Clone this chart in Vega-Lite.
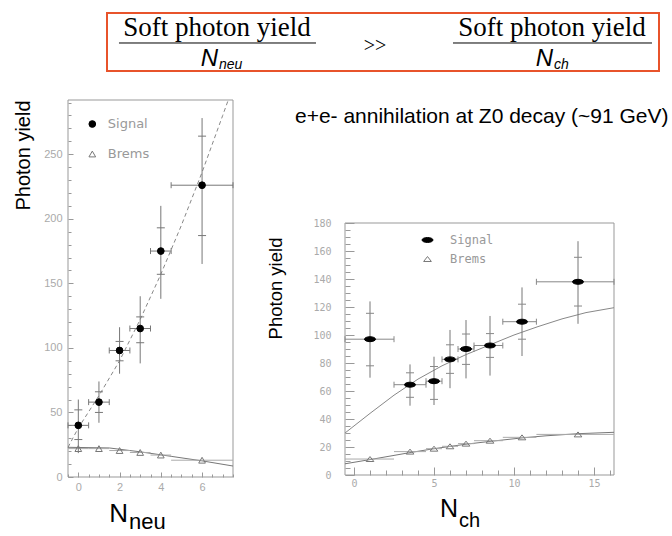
{
  "$schema": "https://vega.github.io/schema/vega-lite/v6.json",
  "width": 672,
  "height": 536,
  "autosize": "none",
  "padding": 0,
  "background": "white",
  "config": {"view": {"stroke": null}, "text": {"font": "Liberation Sans"}},
  "datasets": {
    "leftpts": [
      {"series": "Signal", "n": 0, "y": 40, "lo": 18.5, "hi": 60, "slo": 29, "shi": 52, "xlo": -0.5, "xhi": 0.5},
      {"series": "Signal", "n": 1, "y": 58, "lo": 42, "hi": 74, "slo": 50, "shi": 66, "xlo": 0.5, "xhi": 1.5},
      {"series": "Signal", "n": 2, "y": 98, "lo": 80, "hi": 116, "slo": 90, "shi": 105, "xlo": 1.5, "xhi": 2.5},
      {"series": "Signal", "n": 3, "y": 115, "lo": 88, "hi": 140, "slo": 104, "shi": 124, "xlo": 2.5, "xhi": 3.5},
      {"series": "Signal", "n": 4, "y": 175, "lo": 138, "hi": 210, "slo": 157, "shi": 193, "xlo": 3.5, "xhi": 4.5},
      {"series": "Signal", "n": 6, "y": 226, "lo": 165, "hi": 278, "slo": 187, "shi": 264, "xlo": 4.5, "xhi": 7.5},
      {"series": "Brems", "n": 0, "y": 22, "xlo": -0.5, "xhi": 0.5},
      {"series": "Brems", "n": 1, "y": 22, "xlo": 0.5, "xhi": 1.5},
      {"series": "Brems", "n": 2, "y": 20.5, "xlo": 1.5, "xhi": 2.5},
      {"series": "Brems", "n": 3, "y": 19, "xlo": 2.5, "xhi": 3.5},
      {"series": "Brems", "n": 4, "y": 17, "xlo": 3.5, "xhi": 4.5},
      {"series": "Brems", "n": 6, "y": 13, "xlo": 4.5, "xhi": 7.5}
    ],
    "leftfit": [
      {"series": "Signal", "n": -0.5, "y": 23},
      {"series": "Signal", "n": 0, "y": 38},
      {"series": "Signal", "n": 1, "y": 63},
      {"series": "Signal", "n": 2, "y": 90},
      {"series": "Signal", "n": 3, "y": 122},
      {"series": "Signal", "n": 4, "y": 157},
      {"series": "Signal", "n": 5, "y": 195},
      {"series": "Signal", "n": 6, "y": 236},
      {"series": "Signal", "n": 7, "y": 280},
      {"series": "Signal", "n": 7.27, "y": 292},
      {"series": "Brems", "n": -0.5, "y": 23},
      {"series": "Brems", "n": 1.5, "y": 22.5},
      {"series": "Brems", "n": 3, "y": 19.5},
      {"series": "Brems", "n": 4.5, "y": 16},
      {"series": "Brems", "n": 6, "y": 12.5},
      {"series": "Brems", "n": 7.5, "y": 8.5}
    ],
    "rightpts": [
      {"series": "Signal", "n": 1, "y": 97, "lo": 69.5, "hi": 124, "slo": 78, "shi": 115.5, "xlo": -0.5625, "xhi": 2.5},
      {"series": "Signal", "n": 3.5, "y": 64.5, "lo": 49.5, "hi": 79, "slo": 55.5, "shi": 73, "xlo": 2.5, "xhi": 4.5},
      {"series": "Signal", "n": 5, "y": 67, "lo": 50, "hi": 84.5, "slo": 54, "shi": 77.5, "xlo": 4.5, "xhi": 5.5},
      {"series": "Signal", "n": 6, "y": 82.6, "lo": 62, "hi": 103.6, "slo": 72.6, "shi": 93, "xlo": 5.5, "xhi": 6.5},
      {"series": "Signal", "n": 7, "y": 90, "lo": 69, "hi": 110.7, "slo": 79, "shi": 100.7, "xlo": 6.5, "xhi": 7.5},
      {"series": "Signal", "n": 8.5, "y": 92.5, "lo": 71, "hi": 113.6, "slo": 84, "shi": 101, "xlo": 7.5, "xhi": 9.3},
      {"series": "Signal", "n": 10.5, "y": 109.5, "lo": 85, "hi": 134, "slo": 97, "shi": 122, "xlo": 9.3, "xhi": 11.4},
      {"series": "Signal", "n": 14, "y": 138, "lo": 108, "hi": 167, "slo": 120.7, "shi": 155.5, "xlo": 11.4, "xhi": 16.25},
      {"series": "Brems", "n": 1, "y": 11.4, "xlo": -0.5625, "xhi": 2.5},
      {"series": "Brems", "n": 3.5, "y": 16.7, "xlo": 2.5, "xhi": 4.5},
      {"series": "Brems", "n": 5, "y": 18.8, "xlo": 4.5, "xhi": 5.5},
      {"series": "Brems", "n": 6, "y": 20.5, "xlo": 5.5, "xhi": 6.5},
      {"series": "Brems", "n": 7, "y": 22.4, "xlo": 6.5, "xhi": 7.5},
      {"series": "Brems", "n": 8.5, "y": 24.5, "xlo": 7.5, "xhi": 9.3},
      {"series": "Brems", "n": 10.5, "y": 26.9, "xlo": 9.3, "xhi": 11.4},
      {"series": "Brems", "n": 14, "y": 29, "xlo": 11.4, "xhi": 16.25}
    ],
    "rightfit": [
      {"series": "Signal", "n": -0.5625, "y": 30},
      {"series": "Signal", "n": 1, "y": 44},
      {"series": "Signal", "n": 2.5, "y": 57},
      {"series": "Signal", "n": 4, "y": 68.5},
      {"series": "Signal", "n": 5.5, "y": 78},
      {"series": "Signal", "n": 7, "y": 86},
      {"series": "Signal", "n": 8.5, "y": 93},
      {"series": "Signal", "n": 10, "y": 100},
      {"series": "Signal", "n": 11.5, "y": 106},
      {"series": "Signal", "n": 13, "y": 111.5},
      {"series": "Signal", "n": 14.5, "y": 116},
      {"series": "Signal", "n": 16.25, "y": 119.5},
      {"series": "Brems", "n": -0.5625, "y": 8},
      {"series": "Brems", "n": 1, "y": 11},
      {"series": "Brems", "n": 3.5, "y": 16},
      {"series": "Brems", "n": 5, "y": 18.8},
      {"series": "Brems", "n": 7, "y": 22},
      {"series": "Brems", "n": 8.5, "y": 24},
      {"series": "Brems", "n": 10.5, "y": 26.5},
      {"series": "Brems", "n": 12, "y": 28},
      {"series": "Brems", "n": 14, "y": 29.5},
      {"series": "Brems", "n": 16.25, "y": 30.5}
    ]
  },
  "layer": [
    {
      "data": {"values": [{}]},
      "layer": [
        {
          "mark": {"type": "rect", "fillOpacity": 0, "stroke": "#e8532b", "strokeWidth": 2},
          "encoding": {
            "x": {"datum": 0, "type": "quantitative", "scale": {"domain": [0, 1], "range": [107, 659], "nice": false, "zero": false}, "axis": null},
            "x2": {"datum": 1},
            "y": {"datum": 0, "type": "quantitative", "scale": {"domain": [0, 1], "range": [71, 13], "nice": false, "zero": false}, "axis": null},
            "y2": {"datum": 1}
          }
        },
        {
          "mark": {"type": "text", "text": "Soft photon yield", "font": "Liberation Serif", "fontSize": 27, "align": "center", "baseline": "alphabetic", "color": "black"},
          "encoding": {"x": {"datum": 0.1993, "type": "quantitative"}, "y": {"datum": 0.6034, "type": "quantitative"}}
        },
        {
          "mark": {"type": "text", "text": "Soft photon yield", "font": "Liberation Serif", "fontSize": 27, "align": "center", "baseline": "alphabetic", "color": "black"},
          "encoding": {"x": {"datum": 0.8062, "type": "quantitative"}, "y": {"datum": 0.6034, "type": "quantitative"}}
        },
        {
          "mark": {"type": "rule", "color": "black", "strokeWidth": 1},
          "encoding": {"x": {"datum": 0.0217, "type": "quantitative"}, "x2": {"datum": 0.3786}, "y": {"datum": 0.4828, "type": "quantitative"}}
        },
        {
          "mark": {"type": "rule", "color": "black", "strokeWidth": 1},
          "encoding": {"x": {"datum": 0.6268, "type": "quantitative"}, "x2": {"datum": 0.9873}, "y": {"datum": 0.4828, "type": "quantitative"}}
        },
        {
          "mark": {"type": "text", "text": ">>", "font": "Liberation Serif", "fontSize": 20, "align": "center", "baseline": "alphabetic", "color": "black"},
          "encoding": {"x": {"datum": 0.4855, "type": "quantitative"}, "y": {"datum": 0.3276, "type": "quantitative"}}
        },
        {
          "mark": {"type": "text", "text": "N", "font": "Liberation Sans", "fontStyle": "italic", "fontSize": 24, "align": "right", "baseline": "alphabetic", "color": "black"},
          "encoding": {"x": {"datum": 0.2011, "type": "quantitative"}, "y": {"datum": 0.0862, "type": "quantitative"}}
        },
        {
          "mark": {"type": "text", "text": "neu", "font": "Liberation Sans", "fontStyle": "italic", "fontSize": 14, "align": "left", "baseline": "alphabetic", "color": "black"},
          "encoding": {"x": {"datum": 0.2029, "type": "quantitative"}, "y": {"datum": 0.0345, "type": "quantitative"}}
        },
        {
          "mark": {"type": "text", "text": "N", "font": "Liberation Sans", "fontStyle": "italic", "fontSize": 24, "align": "right", "baseline": "alphabetic", "color": "black"},
          "encoding": {"x": {"datum": 0.808, "type": "quantitative"}, "y": {"datum": 0.0862, "type": "quantitative"}}
        },
        {
          "mark": {"type": "text", "text": "ch", "font": "Liberation Sans", "fontStyle": "italic", "fontSize": 14, "align": "left", "baseline": "alphabetic", "color": "black"},
          "encoding": {"x": {"datum": 0.8098, "type": "quantitative"}, "y": {"datum": 0.0345, "type": "quantitative"}}
        }
      ]
    },
    {
      "data": {"values": [{}]},
      "mark": {"type": "rect", "fillOpacity": 0, "strokeOpacity": 0},
      "encoding": {
        "x": {"datum": -0.5, "type": "quantitative",
          "scale": {"domain": [-0.5, 7.5], "range": [68, 233], "nice": false, "zero": false},
          "axis": {"orient": "bottom", "offset": -59, "values": [-0.5, 0.5, 1, 1.5, 2.5, 3, 3.5, 4.5, 5, 5.5, 6.5, 7, 7.5],
            "labels": false, "domain": false, "grid": false, "tickSize": -3, "tickColor": "#999", "title": null}},
        "x2": {"datum": 7.5},
        "y": {"datum": 0, "type": "quantitative",
          "scale": {"domain": [0, 292], "range": [477, 100], "nice": false, "zero": false},
          "axis": {"orient": "left", "offset": -68, "values": [10, 20, 30, 40, 60, 70, 80, 90, 110, 120, 130, 140, 160, 170, 180, 190, 210, 220, 230, 240, 260, 270, 280, 290],
            "labels": false, "domain": false, "grid": false, "tickSize": -3, "tickColor": "#999", "title": null}},
        "y2": {"datum": 292}
      }
    },
    {
      "layer": [
        {
          "data": {"values": [{}]},
          "mark": {"type": "rect", "fillOpacity": 0, "stroke": "#999", "strokeWidth": 1},
          "encoding": {
            "x": {"datum": -0.5, "type": "quantitative",
              "scale": {"domain": [-0.5, 7.5], "range": [68, 233], "nice": false, "zero": false},
              "axis": {"orient": "bottom", "offset": -59, "values": [0, 2, 4, 6], "format": "d",
                "domain": false, "grid": false, "tickSize": -5, "tickColor": "#999",
                "labelPadding": 9, "labelColor": "#aaa", "labelFontSize": 11, "labelFont": "Liberation Sans", "labelOverlap": false, "labelFlush": false, "title": null}},
            "x2": {"datum": 7.5},
            "y": {"datum": 0, "type": "quantitative",
              "scale": {"domain": [0, 292], "range": [477, 100], "nice": false, "zero": false},
              "axis": {"orient": "left", "offset": -68, "values": [0, 50, 100, 150, 200, 250], "format": "d",
                "domain": false, "grid": false, "tickSize": -5, "tickColor": "#999",
                "labelPadding": 11, "labelColor": "#aaa", "labelFontSize": 11, "labelFont": "Liberation Sans", "labelOverlap": false, "labelFlush": false,
                "title": "Photon yield", "titleFont": "Liberation Sans", "titleFontSize": 20, "titleFontWeight": "normal", "titleColor": "black",
                "titleX": -39, "titleY": 155, "titleAngle": -90, "titleAlign": "center", "titleBaseline": "alphabetic"}},
            "y2": {"datum": 292}
          }
        },
        {
          "data": {"name": "leftfit"},
          "transform": [{"filter": "datum.series === 'Signal'"}],
          "mark": {"type": "line", "color": "#888", "strokeWidth": 1, "strokeDash": [4, 3]},
          "encoding": {"x": {"field": "n", "type": "quantitative"}, "y": {"field": "y", "type": "quantitative"}}
        },
        {
          "data": {"name": "leftfit"},
          "transform": [{"filter": "datum.series === 'Brems'"}],
          "mark": {"type": "line", "color": "#777", "strokeWidth": 1},
          "encoding": {"x": {"field": "n", "type": "quantitative"}, "y": {"field": "y", "type": "quantitative"}}
        },
        {
          "data": {"name": "leftpts"},
          "transform": [{"filter": "datum.series === 'Brems'"}],
          "mark": {"type": "rule", "color": "#aaa", "strokeWidth": 1},
          "encoding": {"x": {"field": "xlo", "type": "quantitative"}, "x2": {"field": "xhi"}, "y": {"field": "y", "type": "quantitative"}}
        },
        {
          "data": {"name": "leftpts"},
          "transform": [{"filter": "datum.series === 'Signal'"}],
          "mark": {"type": "rule", "color": "#777", "strokeWidth": 1},
          "encoding": {"x": {"field": "n", "type": "quantitative"}, "y": {"field": "lo", "type": "quantitative"}, "y2": {"field": "hi"}}
        },
        {
          "data": {"name": "leftpts"},
          "transform": [{"filter": "datum.series === 'Signal'"}],
          "mark": {"type": "rule", "color": "#777", "strokeWidth": 1},
          "encoding": {"x": {"field": "xlo", "type": "quantitative"}, "x2": {"field": "xhi"}, "y": {"field": "y", "type": "quantitative"}}
        },
        {
          "data": {"name": "leftpts"},
          "transform": [{"filter": "datum.series === 'Signal'"}],
          "mark": {"type": "point", "shape": "stroke", "size": 64, "color": "#777", "strokeWidth": 1, "opacity": 1, "filled": false},
          "encoding": {"x": {"field": "n", "type": "quantitative"}, "y": {"field": "slo", "type": "quantitative"}}
        },
        {
          "data": {"name": "leftpts"},
          "transform": [{"filter": "datum.series === 'Signal'"}],
          "mark": {"type": "point", "shape": "stroke", "size": 64, "color": "#777", "strokeWidth": 1, "opacity": 1, "filled": false},
          "encoding": {"x": {"field": "n", "type": "quantitative"}, "y": {"field": "shi", "type": "quantitative"}}
        },
        {
          "data": {"name": "leftpts"},
          "transform": [{"filter": "datum.series === 'Signal'"}],
          "mark": {"type": "point", "shape": "M0,-1L0,1", "size": 36, "color": "#777", "strokeWidth": 1, "opacity": 1, "filled": false},
          "encoding": {"x": {"field": "xlo", "type": "quantitative"}, "y": {"field": "y", "type": "quantitative"}}
        },
        {
          "data": {"name": "leftpts"},
          "transform": [{"filter": "datum.series === 'Signal'"}],
          "mark": {"type": "point", "shape": "M0,-1L0,1", "size": 36, "color": "#777", "strokeWidth": 1, "opacity": 1, "filled": false},
          "encoding": {"x": {"field": "xhi", "type": "quantitative"}, "y": {"field": "y", "type": "quantitative"}}
        },
        {
          "data": {"name": "leftpts"},
          "mark": {"type": "point", "size": 45, "strokeWidth": 1, "opacity": 1},
          "encoding": {
            "x": {"field": "n", "type": "quantitative"},
            "y": {"field": "y", "type": "quantitative"},
            "shape": {"field": "series", "type": "nominal", "scale": {"domain": ["Signal", "Brems"], "range": ["circle", "triangle-up"]},
              "legend": {"orient": "none", "legendX": 85.8, "legendY": 117.5, "title": null, "padding": 0, "labelColor": "#999", "labelFontSize": 13, "labelFont": "DejaVu Sans", "symbolSize": 45, "symbolStrokeWidth": 1, "labelOffset": 9, "rowPadding": 16}},
            "fill": {"field": "series", "type": "nominal", "scale": {"domain": ["Signal", "Brems"], "range": ["black", "transparent"]},
              "legend": {"orient": "none", "legendX": 85.8, "legendY": 117.5, "title": null, "padding": 0, "labelColor": "#999", "labelFontSize": 13, "labelFont": "DejaVu Sans", "symbolSize": 45, "symbolStrokeWidth": 1, "labelOffset": 9, "rowPadding": 16}},
            "stroke": {"field": "series", "type": "nominal", "scale": {"domain": ["Signal", "Brems"], "range": ["black", "#777"]},
              "legend": {"orient": "none", "legendX": 85.8, "legendY": 117.5, "title": null, "padding": 0, "labelColor": "#999", "labelFontSize": 13, "labelFont": "DejaVu Sans", "symbolSize": 45, "symbolStrokeWidth": 1, "labelOffset": 9, "rowPadding": 16}}
          }
        },
        {
          "data": {"values": [{}]},
          "mark": {"type": "text", "text": "N", "font": "Liberation Sans", "fontSize": 26, "align": "right", "baseline": "alphabetic", "color": "black"},
          "encoding": {"x": {"datum": 2.41, "type": "quantitative"}, "y": {"datum": -34.9, "type": "quantitative"}}
        },
        {
          "data": {"values": [{}]},
          "mark": {"type": "text", "text": "neu", "font": "Liberation Sans", "fontSize": 22, "align": "left", "baseline": "alphabetic", "color": "black"},
          "encoding": {"x": {"datum": 2.46, "type": "quantitative"}, "y": {"datum": -40.3, "type": "quantitative"}}
        }
      ]
    },
    {
      "data": {"values": [{}]},
      "mark": {"type": "rect", "fillOpacity": 0, "strokeOpacity": 0},
      "encoding": {
        "x": {"datum": -0.5625, "type": "quantitative",
          "scale": {"domain": [-0.5625, 16.25], "range": [345, 614], "nice": false, "zero": false},
          "axis": {"orient": "bottom", "offset": -61, "values": [1, 2, 3, 4, 6, 7, 8, 9, 11, 12, 13, 14, 16],
            "labels": false, "domain": false, "grid": false, "tickSize": -5, "tickColor": "#999", "title": null}},
        "x2": {"datum": 16.25},
        "y": {"datum": 0, "type": "quantitative",
          "scale": {"domain": [0, 180], "range": [475, 223], "nice": false, "zero": false},
          "axis": {"orient": "left", "offset": -345, "values": [5, 10, 15, 25, 30, 35, 45, 50, 55, 65, 70, 75, 85, 90, 95, 105, 110, 115, 125, 130, 135, 145, 150, 155, 165, 170, 175],
            "labels": false, "domain": false, "grid": false, "tickSize": -5, "tickColor": "#999", "title": null}},
        "y2": {"datum": 180}
      }
    },
    {
      "layer": [
        {
          "data": {"values": [{}]},
          "mark": {"type": "rect", "fillOpacity": 0, "stroke": "#999", "strokeWidth": 1},
          "encoding": {
            "x": {"datum": -0.5625, "type": "quantitative",
              "scale": {"domain": [-0.5625, 16.25], "range": [345, 614], "nice": false, "zero": false},
              "axis": {"orient": "bottom", "offset": -61, "values": [0, 5, 10, 15], "format": "d",
                "domain": false, "grid": false, "tickSize": -8, "tickColor": "#999",
                "labelPadding": 11, "labelColor": "#aaa", "labelFontSize": 10, "labelFont": "DejaVu Sans Mono", "labelOverlap": false, "labelFlush": false, "title": null}},
            "x2": {"datum": 16.25},
            "y": {"datum": 0, "type": "quantitative",
              "scale": {"domain": [0, 180], "range": [475, 223], "nice": false, "zero": false},
              "axis": {"orient": "left", "offset": -345, "values": [0, 20, 40, 60, 80, 100, 120, 140, 160, 180], "format": "d",
                "domain": false, "grid": false, "tickSize": -9, "tickColor": "#999",
                "labelPadding": 23, "labelColor": "#aaa", "labelFontSize": 10, "labelFont": "DejaVu Sans Mono", "labelOverlap": false, "labelFlush": false,
                "title": "Photon yield", "titleFont": "Liberation Sans", "titleFontSize": 18.5, "titleFontWeight": "normal", "titleColor": "black",
                "titleX": -64, "titleY": 288, "titleAngle": -90, "titleAlign": "center", "titleBaseline": "alphabetic"}},
            "y2": {"datum": 180}
          }
        },
        {
          "data": {"name": "rightfit"},
          "transform": [{"filter": "datum.series === 'Signal'"}],
          "mark": {"type": "line", "color": "#888", "strokeWidth": 1},
          "encoding": {"x": {"field": "n", "type": "quantitative"}, "y": {"field": "y", "type": "quantitative"}}
        },
        {
          "data": {"name": "rightfit"},
          "transform": [{"filter": "datum.series === 'Brems'"}],
          "mark": {"type": "line", "color": "#777", "strokeWidth": 1},
          "encoding": {"x": {"field": "n", "type": "quantitative"}, "y": {"field": "y", "type": "quantitative"}}
        },
        {
          "data": {"name": "rightpts"},
          "transform": [{"filter": "datum.series === 'Brems'"}],
          "mark": {"type": "rule", "color": "#aaa", "strokeWidth": 1},
          "encoding": {"x": {"field": "xlo", "type": "quantitative"}, "x2": {"field": "xhi"}, "y": {"field": "y", "type": "quantitative"}}
        },
        {
          "data": {"name": "rightpts"},
          "transform": [{"filter": "datum.series === 'Signal'"}],
          "mark": {"type": "rule", "color": "#777", "strokeWidth": 1},
          "encoding": {"x": {"field": "n", "type": "quantitative"}, "y": {"field": "lo", "type": "quantitative"}, "y2": {"field": "hi"}}
        },
        {
          "data": {"name": "rightpts"},
          "transform": [{"filter": "datum.series === 'Signal'"}],
          "mark": {"type": "rule", "color": "#888", "strokeWidth": 1},
          "encoding": {"x": {"field": "xlo", "type": "quantitative"}, "x2": {"field": "xhi"}, "y": {"field": "y", "type": "quantitative"}}
        },
        {
          "data": {"name": "rightpts"},
          "transform": [{"filter": "datum.series === 'Signal'"}],
          "mark": {"type": "point", "shape": "stroke", "size": 64, "color": "#888", "strokeWidth": 1, "opacity": 1, "filled": false},
          "encoding": {"x": {"field": "n", "type": "quantitative"}, "y": {"field": "slo", "type": "quantitative"}}
        },
        {
          "data": {"name": "rightpts"},
          "transform": [{"filter": "datum.series === 'Signal'"}],
          "mark": {"type": "point", "shape": "stroke", "size": 64, "color": "#888", "strokeWidth": 1, "opacity": 1, "filled": false},
          "encoding": {"x": {"field": "n", "type": "quantitative"}, "y": {"field": "shi", "type": "quantitative"}}
        },
        {
          "data": {"name": "rightpts"},
          "transform": [{"filter": "datum.series === 'Signal'"}],
          "mark": {"type": "point", "shape": "M0,-1L0,1", "size": 36, "color": "#888", "strokeWidth": 1, "opacity": 1, "filled": false},
          "encoding": {"x": {"field": "xlo", "type": "quantitative"}, "y": {"field": "y", "type": "quantitative"}}
        },
        {
          "data": {"name": "rightpts"},
          "transform": [{"filter": "datum.series === 'Signal'"}],
          "mark": {"type": "point", "shape": "M0,-1L0,1", "size": 36, "color": "#888", "strokeWidth": 1, "opacity": 1, "filled": false},
          "encoding": {"x": {"field": "xhi", "type": "quantitative"}, "y": {"field": "y", "type": "quantitative"}}
        },
        {
          "data": {"name": "rightpts"},
          "mark": {"type": "point", "size": 121, "strokeWidth": 1, "opacity": 1},
          "encoding": {
            "x": {"field": "n", "type": "quantitative"},
            "y": {"field": "y", "type": "quantitative"},
            "shape": {"field": "series", "type": "nominal", "scale": {"domain": ["Signal", "Brems"], "range": ["M-1,0A1,0.45,0,1,1,1,0A1,0.45,0,1,1,-1,0Z", "M-0.7,0.45L0.7,0.45L0,-0.45Z"]},
              "legend": {"orient": "none", "legendX": 421.5, "legendY": 234, "title": null, "padding": 0, "labelColor": "#999", "labelFontSize": 12, "labelFont": "DejaVu Sans Mono", "symbolSize": 121, "symbolStrokeWidth": 1, "labelOffset": 16.5, "rowPadding": 7}},
            "fill": {"field": "series", "type": "nominal", "scale": {"domain": ["Signal", "Brems"], "range": ["black", "transparent"]},
              "legend": {"orient": "none", "legendX": 421.5, "legendY": 234, "title": null, "padding": 0, "labelColor": "#999", "labelFontSize": 12, "labelFont": "DejaVu Sans Mono", "symbolSize": 121, "symbolStrokeWidth": 1, "labelOffset": 16.5, "rowPadding": 7}},
            "stroke": {"field": "series", "type": "nominal", "scale": {"domain": ["Signal", "Brems"], "range": ["black", "#777"]},
              "legend": {"orient": "none", "legendX": 421.5, "legendY": 234, "title": null, "padding": 0, "labelColor": "#999", "labelFontSize": 12, "labelFont": "DejaVu Sans Mono", "symbolSize": 121, "symbolStrokeWidth": 1, "labelOffset": 16.5, "rowPadding": 7}}
          }
        },
        {
          "data": {"values": [{}]},
          "mark": {"type": "text", "text": "e+e- annihilation at Z0 decay (~91 GeV)", "font": "Liberation Sans", "fontSize": 21, "align": "left", "baseline": "alphabetic", "color": "black"},
          "encoding": {"x": {"datum": -3.69, "type": "quantitative"}, "y": {"datum": 251.4, "type": "quantitative"}}
        },
        {
          "data": {"values": [{}]},
          "mark": {"type": "text", "text": "N", "font": "Liberation Sans", "fontSize": 25, "align": "right", "baseline": "alphabetic", "color": "black"},
          "encoding": {"x": {"datum": 6.5, "type": "quantitative"}, "y": {"datum": -30, "type": "quantitative"}}
        },
        {
          "data": {"values": [{}]},
          "mark": {"type": "text", "text": "ch", "font": "Liberation Sans", "fontSize": 20, "align": "left", "baseline": "alphabetic", "color": "black"},
          "encoding": {"x": {"datum": 6.56, "type": "quantitative"}, "y": {"datum": -37.1, "type": "quantitative"}}
        }
      ]
    }
  ],
  "resolve": {"scale": {"x": "independent", "y": "independent", "shape": "independent", "fill": "independent", "stroke": "independent"}, "axis": {"x": "independent", "y": "independent"}}
}
